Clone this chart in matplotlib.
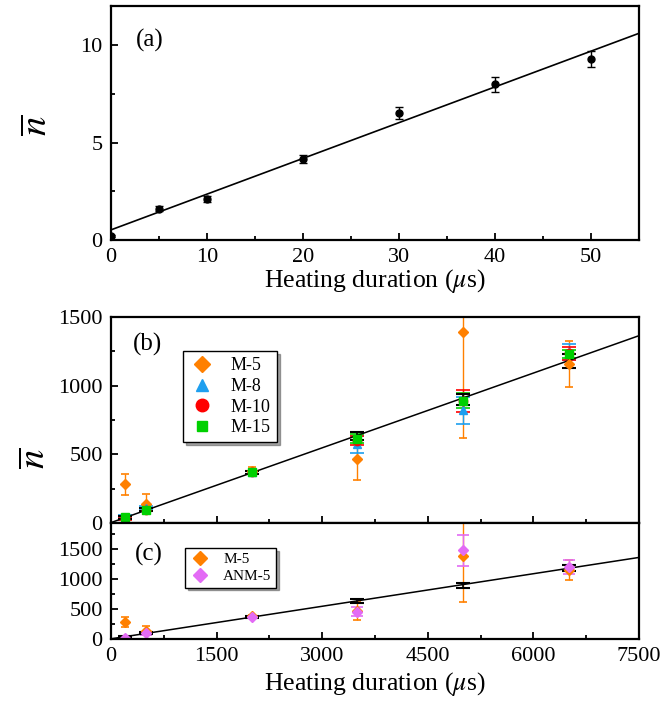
"""Heating rate plot: mean phonon number vs heating duration, panels (a)-(c)."""

import matplotlib
matplotlib.use("Agg")
import matplotlib.pyplot as plt
from matplotlib.lines import Line2D
from matplotlib.ticker import MultipleLocator

plt.rcParams["font.family"] = ["Liberation Serif", "DejaVu Serif"]
plt.rcParams["mathtext.fontset"] = "stix"
plt.rcParams["font.size"] = 16

# ---- data: panel (a) ----
t_a = [0, 5, 10, 20, 30, 40, 50]
n_a = [0.22, 1.6, 2.12, 4.14, 6.52, 7.98, 9.28]
n_a_err = [0.05, 0.12, 0.15, 0.2, 0.31, 0.39, 0.43]
fit_a_x = [0, 55]
fit_a_y = [0.52, 10.6]

# ---- data: panels (b), (c) ----
t_b = [200, 500, 2000, 3500, 5000, 6500]
m5 = [282, 140, 378, 463, 1392, 1160]
m5_err = [78, 73, 28, 148, 770, 168]
m8 = [45, 110, 368, 572, 820, 1247]
m8_err = [12, 15, 12, 60, 97, 58]
m10 = [30, 98, 368, 598, 887, 1235]
m10_err = [10, 12, 12, 33, 82, 45]
m15 = [42, 96, 368, 612, 891, 1229]
m15_err = [10, 12, 12, 33, 57, 28]
avg = [40, 100, 368, 636, 899, 1180]
avg_err = [8, 10, 12, 29, 40, 50]
anm5 = [25, 95, 375, 455, 1483, 1200]
anm5_err = [10, 25, 15, 75, 263, 120]
fit_b_x = [0, 7500]
fit_b_y = [3, 1364]

ORANGE = "#FF8000"
BLUE = "#1E9FEF"
RED = "#FF0000"
GREEN = "#00D000"
VIOLET = "#E36BF5"

W, H = 664, 702


def px_axes(fig, left, top, right, bottom):
    return fig.add_axes([left / W, 1 - bottom / H, (right - left) / W, (bottom - top) / H])


def px_text(fig, x, y, s, **kw):
    fig.text(x / W, 1 - y / H, s, ha="center", va="center", **kw)


def style(ax):
    for s in ax.spines.values():
        s.set_linewidth(1.6)
    ax.tick_params(which="both", direction="in", top=False, right=False,
                   width=1.3, labelsize=16)
    ax.tick_params(which="major", length=5, pad=6)
    ax.tick_params(which="minor", length=3)


def marker_handles(specs):
    return [Line2D([], [], ls="none", marker=mk, ms=ms, color=col, label=lab)
            for lab, mk, ms, col in specs]


fig = plt.figure(figsize=(W / 100, H / 100), dpi=100)

# ---- (a) ----
ax_a = px_axes(fig, 111, 6, 639, 240)
ax_a.errorbar(t_a, n_a, yerr=n_a_err, fmt="o", color="black", ms=5,
              capsize=3, elinewidth=1, capthick=1)
ax_a.plot(fit_a_x, fit_a_y, color="black", lw=1.2)
ax_a.set_xlim(0, 55)
ax_a.set_ylim(0, 12)
ax_a.xaxis.set_major_locator(MultipleLocator(10))
ax_a.xaxis.set_minor_locator(MultipleLocator(5))
ax_a.yaxis.set_major_locator(MultipleLocator(5))
ax_a.yaxis.set_minor_locator(MultipleLocator(2.5))
ax_a.set_xlabel(r"Heating duration ($\mu$s)", fontsize=18.5, labelpad=0)
style(ax_a)

# ---- (b) ----
ax_b = px_axes(fig, 111, 317, 639, 523)
series_b = [
    ("M-5", m5, m5_err, "D", 5, ORANGE, 3),
    ("M-8", m8, m8_err, "^", 6, BLUE, 5),
    ("M-10", m10, m10_err, "o", 6, RED, 5),
    ("M-15", m15, m15_err, "s", 5.5, GREEN, 5),
]
for label, y, e, mk, ms, col, cs in series_b:
    ax_b.errorbar(t_b, y, yerr=e, fmt=mk, ms=ms, color=col, ecolor=col,
                  capsize=cs, elinewidth=1, capthick=1.2)
ax_b.errorbar(t_b, avg, yerr=avg_err, fmt="none", ecolor="black",
              capsize=5, elinewidth=1.2, capthick=1.5)
ax_b.plot(fit_b_x, fit_b_y, color="black", lw=1.1)
ax_b.set_xlim(0, 7500)
ax_b.set_ylim(0, 1500)
ax_b.xaxis.set_major_locator(MultipleLocator(1500))
ax_b.xaxis.set_minor_locator(MultipleLocator(750))
ax_b.yaxis.set_major_locator(MultipleLocator(500))
ax_b.yaxis.set_minor_locator(MultipleLocator(250))
leg = ax_b.legend(handles=marker_handles([("M-5", "D", 8, ORANGE), ("M-8", "^", 9, BLUE),
                                          ("M-10", "o", 9, RED), ("M-15", "s", 7.5, GREEN)]),
                  loc="upper left", bbox_to_anchor=(0.136, 0.835), borderaxespad=0,
                  fontsize=13, frameon=True, fancybox=False, shadow=True,
                  edgecolor="black", handlelength=1.4, handletextpad=0.9,
                  labelspacing=0.2, borderpad=0.35)
leg.get_frame().set_linewidth(1.0)
style(ax_b)
ax_b.tick_params(labelbottom=False)

# ---- (c) ----
ax_c = px_axes(fig, 111, 523, 639, 639)
ax_c.errorbar(t_b, m5, yerr=m5_err, fmt="D", ms=5, color=ORANGE, ecolor=ORANGE,
              capsize=3, elinewidth=1, capthick=1.2)
ax_c.errorbar(t_b, anm5, yerr=anm5_err, fmt="D", ms=5.5, color=VIOLET, ecolor=VIOLET,
              capsize=4, elinewidth=1, capthick=1.2)
ax_c.errorbar(t_b, avg, yerr=avg_err, fmt="none", ecolor="black",
              capsize=5, elinewidth=1.2, capthick=1.5)
ax_c.plot(fit_b_x, fit_b_y, color="black", lw=1.1)
ax_c.set_xlim(0, 7500)
ax_c.set_ylim(0, 1940)
ax_c.xaxis.set_major_locator(MultipleLocator(1500))
ax_c.xaxis.set_minor_locator(MultipleLocator(750))
ax_c.yaxis.set_major_locator(MultipleLocator(500))
ax_c.yaxis.set_minor_locator(MultipleLocator(250))
ax_c.set_xlabel(r"Heating duration ($\mu$s)", fontsize=18.5, labelpad=3)
leg_c = ax_c.legend(handles=marker_handles([("M-5", "D", 7.5, ORANGE), ("ANM-5", "D", 7.5, VIOLET)]),
                    loc="upper left", bbox_to_anchor=(0.14, 0.784), borderaxespad=0,
                    fontsize=11, frameon=True, fancybox=False, shadow=True,
                    edgecolor="black", handlelength=1.4, handletextpad=0.8,
                    labelspacing=0.2, borderpad=0.3)
leg_c.get_frame().set_linewidth(1.0)
style(ax_c)

# panel tags and y labels (pixel positions)
px_text(fig, 150, 40, "(a)", fontsize=18)
px_text(fig, 148, 344, "(b)", fontsize=18)
px_text(fig, 149, 554, "(c)", fontsize=18)
px_text(fig, 38, 125, r"$\overline{n}$", rotation=90, fontsize=28)
px_text(fig, 36, 458, r"$\overline{n}$", rotation=90, fontsize=28)

fig.savefig("out.png", dpi=100)
